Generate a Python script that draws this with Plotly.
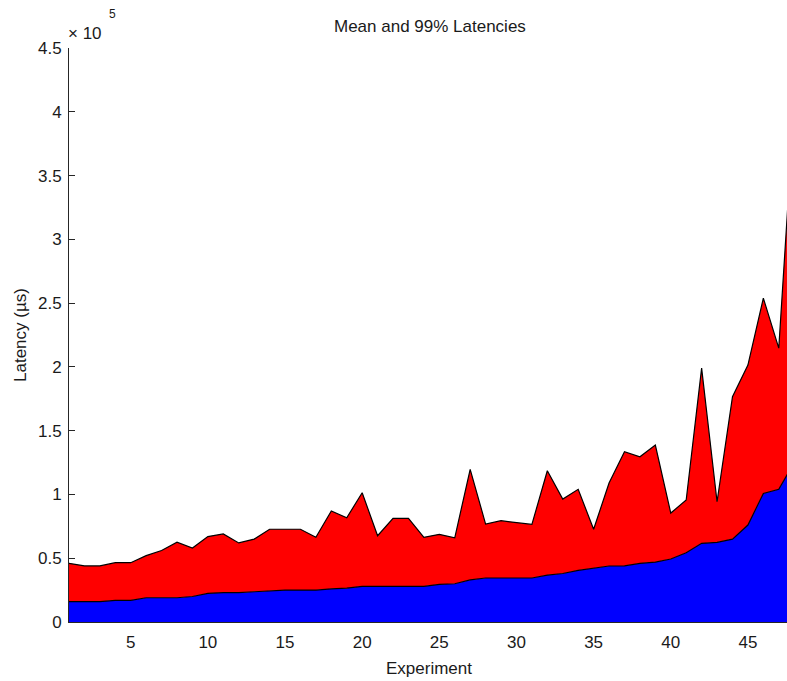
import plotly.graph_objects as go

# Experiment index
experiments = list(range(1, 49))

# Mean latency per experiment (µs)
mean_latency = [
    16000, 16000, 16000, 17000, 17000, 19000, 19000, 19000, 20000, 22500,
    23000, 23000, 23700, 24500, 25000, 25000, 25000, 26000, 26500, 28000,
    28000, 28000, 28000, 28000, 29500, 30000, 33000, 34500, 34500, 34500,
    34500, 36800, 38000, 40500, 42500, 43900, 44000, 46000, 47000, 49400,
    54300, 61700, 62500, 65000, 76000, 100800, 104000, 125000,
]

# 99th percentile latency per experiment (µs)
p99_latency = [
    46000, 44000, 44000, 46500, 46500, 52000, 56000, 62500, 58000, 67000,
    69000, 62000, 65000, 72700, 72700, 72700, 66500, 87000, 81700, 101300,
    67600, 81300, 81300, 66400, 68700, 66000, 119700, 76800, 79400, 77800,
    76500, 118600, 96400, 104000, 72700, 108900, 133500, 129500, 138700, 85400,
    95600, 199000, 94300, 176600, 201400, 253900, 214700, 405000,
]

y_tick_vals = [0, 50000, 100000, 150000, 200000, 250000, 300000, 350000, 400000, 450000]
y_tick_text = ["0", "0.5", "1", "1.5", "2", "2.5", "3", "3.5", "4", "4.5"]
x_tick_vals = [5, 10, 15, 20, 25, 30, 35, 40, 45]

FONT = "Liberation Sans, Arial, sans-serif"
TEXT_COLOR = "#1a1a1a"
AXIS_COLOR = "#262626"
FS = 17

fig = go.Figure()

fig.add_trace(go.Scatter(
    x=experiments, y=mean_latency, mode="lines",
    line=dict(color="black", width=1.2),
    fill="tozeroy", fillcolor="#0000FF",
    name="Mean", hoverinfo="x+y",
))
fig.add_trace(go.Scatter(
    x=experiments, y=p99_latency, mode="lines",
    line=dict(color="black", width=1.2),
    fill="tonexty", fillcolor="#FF0000",
    name="99%", hoverinfo="x+y",
))

W, H = 787, 681
L, R, T, B = 69, 0, 48, 59
pw, ph = W - L - R, H - T - B

fig.update_layout(
    width=W, height=H,
    margin=dict(l=L, r=R, t=T, b=B, pad=0),
    paper_bgcolor="white", plot_bgcolor="white",
    showlegend=False,
    font=dict(family=FONT, size=FS, color=TEXT_COLOR),
    xaxis=dict(
        range=[1, 1 + (W - L) / 15.43],
        tickmode="array", tickvals=x_tick_vals,
        ticks="inside", ticklen=6, tickcolor=AXIS_COLOR, tickwidth=1,
        showline=True, linecolor=AXIS_COLOR, linewidth=1,
        showgrid=False, zeroline=False, layer="below traces",
        ticklabelstandoff=5,
        tickfont=dict(family=FONT, size=FS, color=TEXT_COLOR),
    ),
    yaxis=dict(
        range=[0, 450000],
        tickmode="array", tickvals=y_tick_vals, ticktext=y_tick_text,
        ticks="inside", ticklen=6, tickcolor=AXIS_COLOR, tickwidth=1,
        showline=True, linecolor=AXIS_COLOR, linewidth=1,
        showgrid=False, zeroline=False, layer="below traces",
        ticklabelstandoff=3,
        tickfont=dict(family=FONT, size=FS, color=TEXT_COLOR),
    ),
    annotations=[
        dict(text="Mean and 99% Latencies", xref="paper", yref="paper",
             x=(429.5 - L) / pw, y=1 + (T - 27) / ph,
             xanchor="center", yanchor="middle", showarrow=False,
             font=dict(family=FONT, size=FS, color=TEXT_COLOR)),
        dict(text="Experiment", xref="paper", yref="paper",
             x=(429 - L) / pw, y=-(668 - (T + ph)) / ph,
             xanchor="center", yanchor="middle", showarrow=False,
             font=dict(family=FONT, size=FS, color=TEXT_COLOR)),
        dict(text="Latency (µs)", xref="paper", yref="paper",
             x=(20 - L) / pw, y=0.5, textangle=-90,
             xanchor="center", yanchor="middle", showarrow=False,
             font=dict(family=FONT, size=FS, color=TEXT_COLOR)),
        dict(text="× 10", xref="paper", yref="paper",
             x=(66 - L) / pw, y=1 + (T - 34) / ph,
             xanchor="left", yanchor="middle", showarrow=False,
             font=dict(family=FONT, size=FS, color=TEXT_COLOR)),
        dict(text="5", xref="paper", yref="paper",
             x=(107 - L) / pw, y=1 + (T - 14) / ph,
             xanchor="left", yanchor="middle", showarrow=False,
             font=dict(family=FONT, size=12, color=TEXT_COLOR)),
    ],
)

fig.write_html("out.html")
